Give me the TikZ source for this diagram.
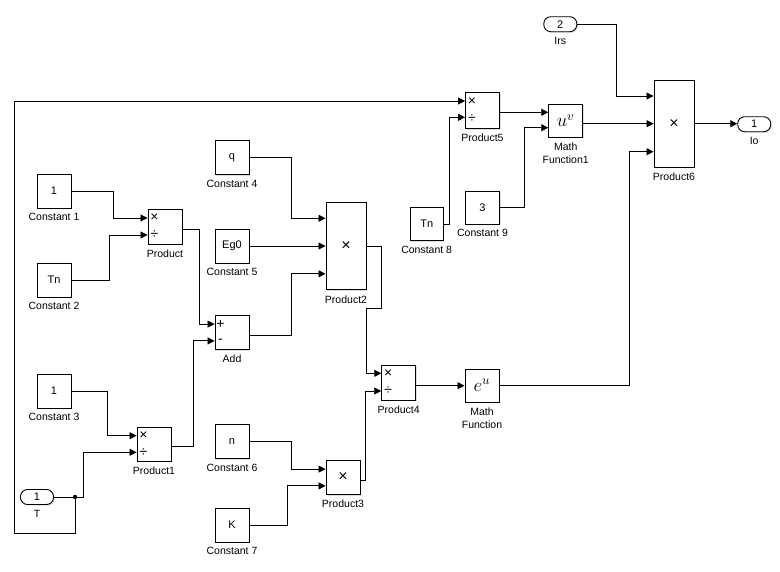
\documentclass[tikz,border=0pt]{standalone}
\usepackage{fontspec}
\setmainfont{Liberation Sans}
\usetikzlibrary{arrows.meta,shadows}

\tikzset{
  blk/.style={draw, line width=0.9pt, fill=white, minimum width=34pt, minimum height=34pt,
    inner sep=0pt, font=\fontsize{11}{12}\selectfont,
    drop shadow={shadow xshift=1.2pt, shadow yshift=-1.2pt, opacity=0.25}},
  bigblk/.style={blk, minimum width=40pt, minimum height=87pt, font=\fontsize{16}{16}\selectfont},
  port/.style={blk, rounded corners=7pt, minimum width=33pt, minimum height=15pt},
  lbl/.style={font=\fontsize{10.5}{13.5}\selectfont, inner sep=0pt, align=center},
  sgn/.style={inner sep=0pt, font=\fontsize{14}{14}\selectfont},
  wire/.style={line width=0.85pt, -{Triangle[length=7pt,width=7pt]}},
  every label/.style={lbl},
  label distance=5pt
}

\begin{document}
\begin{tikzpicture}[x=1pt, y=-1pt]
  \useasboundingbox (0,0) rectangle (780,571);

  % left column
  \node[blk, label=below:Constant 1] (c1) at (54,191) {1};
  \node[blk, label=below:Constant 2] (c2) at (54,280) {Tn};
  \node[blk, label=below:Constant 3] (c3) at (54,391) {1};
  \node[port, label=below:T] (T) at (37,497) {1};

  \node[blk, minimum height=35pt, label=below:Product] (prod) at (165,226.5) {};
  \node[blk, label=below:Product1] (prod1) at (154,444) {};

  % middle column
  \node[blk, label=below:Constant 4] (c4) at (232,157.5) {q};
  \node[blk, label=below:Constant 5] (c5) at (232,246) {Eg0};
  \node[blk, label=below:Add] (add) at (232,332.5) {};
  \node[blk, label=below:Constant 6] (c6) at (232,441.5) {n};
  \node[blk, label=below:Constant 7] (c7) at (232,525) {K};

  \node[bigblk, label=below:Product2] (prod2) at (346,246.3) {×};
  \node[blk, font=\fontsize{16}{16}\selectfont, label=below:Product3] (prod3) at (343,477.5) {×};
  \node[blk, minimum height=35pt, label=below:Product4] (prod4) at (398.7,382.5) {};
  \node[blk, minimum height=33pt, label={below:Math\\Function}] (ef) at (482,385.5)
    {\scalebox{1.3}{\Large$e^{u}$}};

  % right part
  \node[blk, minimum width=33pt, minimum height=33pt, label=below:Constant 8] (c8) at (426.7,224) {Tn};
  \node[blk, minimum height=36pt, label=below:Product5] (prod5) at (482.5,110.3) {};
  \node[blk, minimum height=33pt, label=below:Constant 9] (c9) at (482.5,207.5) {3};
  \node[blk, minimum height=33pt, label={below:Math\\Function1}] (uv) at (565.7,120.7)
    {\scalebox{1.3}{\Large$u^{v}$}};
  \node[port, label=below:Irs] (irs) at (560.3,24.2) {2};
  \node[bigblk, label=below:Product6] (prod6) at (674,123.7) {×};
  \node[port, label=below:Io] (io) at (754.2,124.2) {1};

  % signs on the ports
  \foreach \b in {prod,prod1,prod4,prod5} {
    \node[sgn] (\b-m) at ([xshift=7pt,yshift=8.5pt]\b.west) {×};
    \node[sgn] (\b-d) at ([xshift=7pt,yshift=-8.5pt]\b.west) {÷};
  }
  \node[sgn] (add-p) at ([xshift=6pt,yshift=8.4pt]add.west) {+};
  \node[sgn] (add-m) at ([xshift=6pt,yshift=-8.4pt]add.west) {-};

  % wires
  \draw[wire] (c1.east) -- ++(41.7,0) |- ([yshift=8.5pt]prod.west);
  \draw[wire] (c2.east) -- ++(38.3,0) |- ([yshift=-8.5pt]prod.west);
  \draw[wire] ([yshift=-2.8pt]prod.east) -- ++(16.7,0) |- ([yshift=8.4pt]add.west);
  \draw[wire] ([yshift=-2.7pt]prod1.east) -- ++(21.7,0) |- ([yshift=-8.4pt]add.west);
  \draw[wire] (c3.east) -- ++(36.3,0) |- ([yshift=8.3pt]prod1.west);

  \coordinate (tj) at (75,497);
  \draw[line width=0.85pt] (T.east) -- (tj);
  \fill (tj) circle (2.2pt);
  \draw[wire] (tj) -- ++(8.3,0) |- ([yshift=-8.3pt]prod1.west);
  \draw[wire] (tj) -- ++(0,36.3) -- ++(-60.3,0) |- ([yshift=9.3pt]prod5.west);

  \draw[wire] (c4.east) -- ++(41.7,0) |- ([yshift=28pt]prod2.west);
  \draw[wire] (c5.east) -- (c5.east -| prod2.west);
  \draw[wire] ([yshift=-2.5pt]add.east) -- ++(41.7,0) |- ([yshift=-27.5pt]prod2.west);

  \draw[wire] (c6.east) -- ++(41.7,0) |- ([yshift=8.4pt]prod3.west);
  \draw[wire] (c7.east) -- ++(37.7,0) |- ([yshift=-8.4pt]prod3.west);

  \draw[wire] (prod2.east) -- ++(15.3,0) -- ++(0,62) -- ++(-15.7,0) |- ([yshift=9.2pt]prod4.west);
  \draw[wire] ([yshift=-3.2pt]prod3.east) -- ++(5,0) |- ([yshift=-8.5pt]prod4.west);

  \draw[wire] ([yshift=-3.2pt]prod4.east) -- ([yshift=-3.2pt]prod4.east -| ef.west);
  \draw[wire] (ef.east) -- ++(130,0) |- ([yshift=-28pt]prod6.west);

  \draw[wire] (c8.east) -- ++(6,0) |- ([yshift=-7pt]prod5.west);
  \draw[wire] ([yshift=-2pt]prod5.east) -- ([yshift=-2pt]prod5.east -| uv.west);
  \draw[wire] (c9.east) -- ++(24.7,0) |- ([yshift=-7pt]uv.west);
  \draw[wire] ([yshift=-3pt]uv.east) -- ([yshift=-3pt]uv.east -| prod6.west);

  \draw[wire] (irs.east) -- ++(38.7,0) |- ([yshift=27.7pt]prod6.west);
  \draw[wire] (prod6.east) -- (prod6.east -| io.west);
\end{tikzpicture}
\end{document}
